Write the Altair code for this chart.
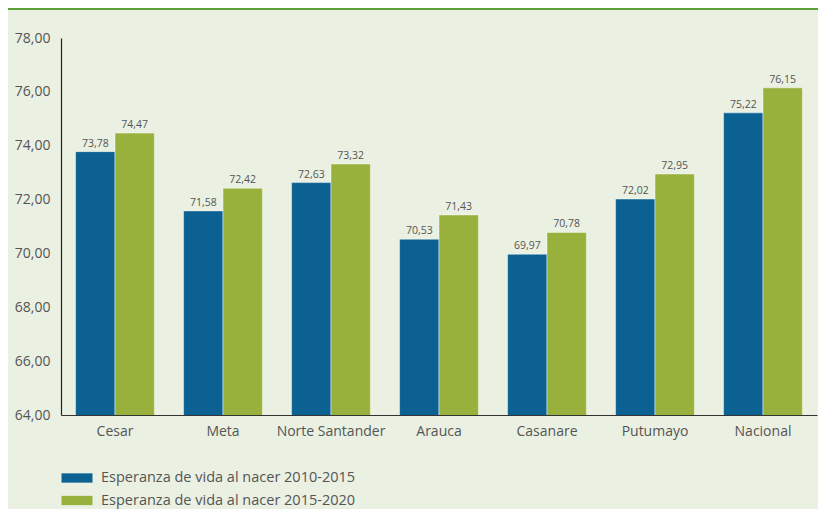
import altair as alt
import pandas as pd

regions = ["Cesar", "Meta", "Norte Santander", "Arauca", "Casanare", "Putumayo", "Nacional"]
series_names = ["Esperanza de vida al nacer 2010-2015", "Esperanza de vida al nacer 2015-2020"]
values_2010 = [73.78, 71.58, 72.63, 70.53, 69.97, 72.02, 75.22]
values_2015 = [74.47, 72.42, 73.32, 71.43, 70.78, 72.95, 76.15]
y_ticks = [64, 66, 68, 70, 72, 74, 76, 78]

rows = []
for r, a, b in zip(regions, values_2010, values_2015):
    rows.append({"region": r, "serie": series_names[0], "valor": a})
    rows.append({"region": r, "serie": series_names[1], "valor": b})
df = pd.DataFrame(rows)

FONT = "Open Sans"
GRAY = "#555555"
BG = "#eaf0e2"

base = alt.Chart(df).transform_calculate(
    etiqueta="replace(format(datum.valor, '.2f'), '.', ',')"
)

x_enc = alt.X("region:N", sort=regions, title=None,
              scale=alt.Scale(paddingInner=0.27, paddingOuter=0.135),
              axis=alt.Axis(labelAngle=0, ticks=False, labelPadding=9, labelFontSize=14,
                            labelColor=GRAY, labelFont=FONT, domainColor="#333333",
                            domainWidth=1.2, zindex=1))

bars = base.mark_bar(stroke="#ffffff", strokeOpacity=0.45, strokeWidth=1, clip=True).encode(
    x=x_enc,
    xOffset=alt.XOffset("serie:N", sort=series_names),
    y=alt.Y("valor:Q", title=None,
            scale=alt.Scale(domain=[64, 78], zero=False, nice=False),
            axis=alt.Axis(values=y_ticks, ticks=False, grid=False, labelPadding=11,
                          labelFontSize=14, labelColor=GRAY, labelFont=FONT,
                          domainColor="#222222", domainWidth=1.2, zindex=1,
                          labelExpr="replace(format(datum.value, '.2f'), '.', ',')")),
    color=alt.Color("serie:N", sort=series_names,
                    scale=alt.Scale(domain=series_names, range=["#0a6192", "#98b13d"]),
                    legend=alt.Legend(title=None, orient="none", legendX=8, legendY=432,
                                      symbolType="M-2,-0.6H2V0.6H-2Z", symbolSize=240,
                                      symbolStrokeWidth=0, labelFontSize=14.5, labelColor=GRAY,
                                      labelFont=FONT, labelOffset=16, rowPadding=7.5,
                                      padding=0, labelLimit=400)),
)

labels = base.mark_text(dy=-8, fontSize=10.5, color=GRAY, font=FONT).encode(
    x=alt.X("region:N", sort=regions),
    xOffset=alt.XOffset("serie:N", sort=series_names),
    y=alt.Y("valor:Q"),
    text="etiqueta:N",
)

header = alt.Chart(pd.DataFrame({"k": [0]})).mark_rect(color="#5b9f37").encode(
    x=alt.value(-61), x2=alt.value(780), y=alt.value(-40), y2=alt.value(-28)
)

chart = alt.layer(header, bars, labels).properties(
    width=756, height=377,
    autosize=alt.AutoSizeParams(type="none"),
    padding={"left": 53, "top": 30, "right": 1, "bottom": 94},
    background=BG,
).configure_view(stroke=None)

chart.save("out.html", embed_options={"renderer": "svg", "actions": False})
